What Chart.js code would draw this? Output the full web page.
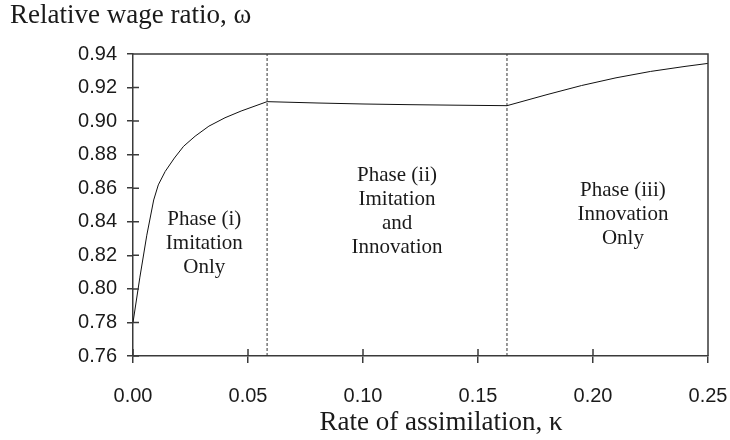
<!DOCTYPE html>
<html>
<head>
<meta charset="utf-8">
<script src="https://cdn.jsdelivr.net/npm/chart.js@4.4.0/dist/chart.umd.min.js"></script>
<style>
  body { margin: 0; background: #ffffff; }
  canvas { display: block; }
</style>
</head>
<body>
<canvas id="wage-chart" width="730" height="440"></canvas>
<script>
// rate of assimilation (kappa) and relative wage ratio (omega)
const kappa = [0, 0.003, 0.006, 0.009, 0.011, 0.014, 0.018, 0.022, 0.027, 0.033, 0.040, 0.047, 0.0583,
               0.08, 0.10, 0.12, 0.14, 0.1626, 0.18, 0.195, 0.21, 0.225, 0.24, 0.25];
const omega = [0.78, 0.807, 0.832, 0.853, 0.862, 0.870, 0.878, 0.885, 0.891, 0.897, 0.902, 0.906, 0.9116,
               0.9108, 0.9102, 0.9098, 0.9095, 0.9092, 0.9158, 0.9212, 0.9258, 0.9296, 0.9326, 0.9344];
const phaseBounds = [0.0583, 0.1626]; // dashed dividers
const xTicks = [0, 0.05, 0.10, 0.15, 0.20, 0.25];
const yTicks = [0.76, 0.78, 0.80, 0.82, 0.84, 0.86, 0.88, 0.90, 0.92, 0.94];
const phaseLabels = [
  ["Phase (i)", "Imitation", "Only"],
  ["Phase (ii)", "Imitation", "and", "Innovation"],
  ["Phase (iii)", "Innovation", "Only"]
];
const phaseX = [0.031, 0.1148, 0.213];       // label centres, in kappa
const phaseY = [0.8413, 0.8675, 0.8585];      // first line centre, in omega
const yTitle = "Relative wage ratio, \u03c9";
const xTitle = "Rate of assimilation, \u03ba";

const axisColor = "#3a3a3a";
const serif = "'Liberation Serif', 'Times New Roman', serif";

let points = kappa.map((k, i) => ({ x: k, y: omega[i] }));
let dividers = phaseBounds.map(b => ({
  data: [{ x: b, y: yTicks[0] }, { x: b, y: yTicks[yTicks.length - 1] }],
  borderColor: "#333",
  borderWidth: 1,
  borderDash: [3, 2],
  pointRadius: 0,
  tension: 0
}));

// frame, inner tick halves, titles and phase notes
const decorations = {
  id: "decorations",
  afterDraw(chart) {
    const ctx = chart.ctx;
    const a = chart.chartArea;
    const xs = chart.scales.x, ys = chart.scales.y;
    ctx.save();
    ctx.strokeStyle = axisColor;
    ctx.lineWidth = 1.5;
    ctx.beginPath();
    ctx.moveTo(a.left, a.top); ctx.lineTo(a.right, a.top); ctx.lineTo(a.right, a.bottom);
    xTicks.forEach(v => {
      const px = xs.getPixelForValue(v);
      ctx.moveTo(px, a.bottom); ctx.lineTo(px, a.bottom - 7);
    });
    yTicks.forEach(v => {
      const py = ys.getPixelForValue(v);
      ctx.moveTo(a.left, py); ctx.lineTo(a.left + 6, py);
    });
    ctx.stroke();

    ctx.fillStyle = "#1a1a1a";
    ctx.font = "21px " + serif;
    ctx.textAlign = "center";
    ctx.textBaseline = "middle";
    phaseLabels.forEach((lines, i) => {
      const cx = xs.getPixelForValue(phaseX[i]);
      const cy = ys.getPixelForValue(phaseY[i]);
      lines.forEach((t, j) => ctx.fillText(t, cx, cy + j * 24));
    });

    ctx.font = "27px " + serif;
    ctx.textAlign = "left";
    ctx.textBaseline = "alphabetic";
    ctx.fillText(yTitle, 10, 23);
    ctx.textAlign = "center";
    ctx.fillText(xTitle, 441, 430);
    ctx.restore();
  }
};

new Chart(document.getElementById("wage-chart"), {
  type: "line",
  data: {
    datasets: [{
      data: points,
      borderColor: "#111",
      borderWidth: 1,
      pointRadius: 0,
      tension: 0
    }].concat(dividers)
  },
  options: {
    responsive: false,
    animation: false,
    layout: { padding: { top: 54, right: 22, left: 0, bottom: 0 } },
    plugins: { legend: { display: false }, tooltip: { enabled: false } },
    scales: {
      x: {
        type: "linear",
        min: 0, max: 0.25,
        afterBuildTicks: s => { s.ticks = xTicks.map(v => ({ value: v })); },
        afterFit: s => { s.height = 84; s.paddingLeft = 0; s.paddingRight = 0; },
        grid: { drawOnChartArea: false, drawTicks: true, tickLength: 7, color: axisColor, lineWidth: 1.5 },
        border: { color: axisColor, width: 1.5 },
        ticks: {
          padding: 21,
          color: "#1a1a1a",
          font: { family: "'Liberation Sans', Arial, sans-serif", size: 20 },
          callback: v => v.toFixed(2)
        }
      },
      y: {
        min: 0.76, max: 0.94,
        afterBuildTicks: s => { s.ticks = yTicks.map(v => ({ value: v })); },
        afterFit: s => { s.width = 133; s.paddingTop = 0; s.paddingBottom = 0; },
        grid: { drawOnChartArea: false, drawTicks: true, tickLength: 6, color: axisColor, lineWidth: 1.5 },
        border: { color: axisColor, width: 1.5 },
        ticks: {
          padding: 10,
          color: "#1a1a1a",
          font: { family: "'Liberation Sans', Arial, sans-serif", size: 20 },
          callback: v => v.toFixed(2)
        }
      }
    }
  },
  plugins: [decorations]
});
</script>
</body>
</html>
